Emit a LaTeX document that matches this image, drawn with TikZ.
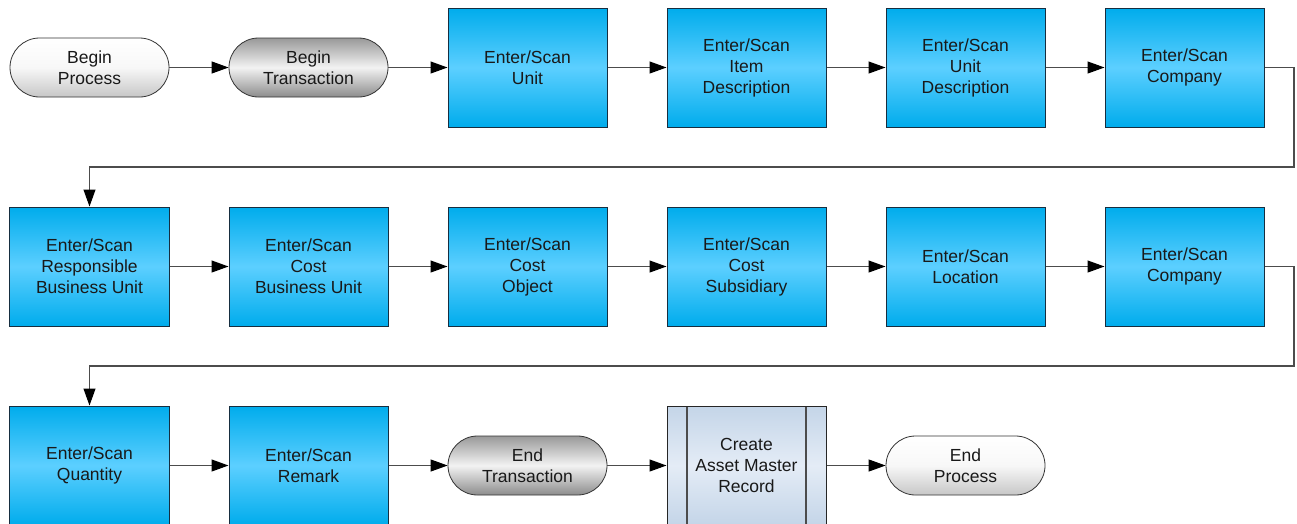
\documentclass[tikz,border=0pt]{standalone}
\usepackage{fontspec}
\setmainfont{Liberation Sans}
\usetikzlibrary{arrows.meta}

\definecolor{scandark}{RGB}{0,172,236}
\definecolor{scanlight}{RGB}{92,207,255}
\definecolor{scanedge}{RGB}{22,46,64}
\definecolor{recdark}{RGB}{196,213,232}
\definecolor{reclight}{RGB}{228,236,246}

\tikzset{
  flow/.style={
    every node/.style={font=\fontsize{17.5pt}{21pt}\selectfont,text=black!90,align=center,inner sep=2pt},
    scanbox/.style={
        draw=scanedge,
        line width=1pt,
        minimum width=159pt,
        minimum height=119pt,
        top color=scandark,
        bottom color=scandark,
        middle color=scanlight,
    },
    terminal/.style={
        draw=black!80,
        line width=0.8pt,
        minimum width=159pt,
        minimum height=59pt,
        rounded corners=29.5pt,
    },
    light terminal/.style={terminal,top color=white,bottom color=black!22,middle color=black!3},
    dark terminal/.style={terminal,top color=black!40,bottom color=black!45,middle color=black!5},
    record/.style={
        draw=black!85,
        line width=1pt,
        minimum width=159pt,
        minimum height=119pt,
        top color=recdark,
        bottom color=recdark,
        middle color=reclight,
        path picture={
            \draw[black!70,line width=1.2pt]
              ([xshift=20pt]path picture bounding box.north west) -- ([xshift=20pt]path picture bounding box.south west)
              ([xshift=-20pt]path picture bounding box.north east) -- ([xshift=-20pt]path picture bounding box.south east);
        },
    },
    link/.style={draw=black!70,line width=1.1pt,-{Triangle[length=17pt,width=12pt,color=black]}},
  }
}

\begin{document}
\begin{tikzpicture}[x=219pt, y=-199pt, flow]
            \useasboundingbox (-89.5pt,67.5pt) rectangle (1207.5pt,-455.5pt);

            \node[light terminal] (A1) at (0,0) {Begin\\Process};
            \node[dark terminal]  (A2) at (1,0) {Begin\\Transaction};
            \node[scanbox] (A3) at (2,0) {Enter/Scan\\Unit};
            \node[scanbox] (A4) at (3,0) {Enter/Scan\\Item\\Description};
            \node[scanbox] (A5) at (4,0) {Enter/Scan\\Unit\\Description};
            \node[scanbox] (A6) at (5,0) {Enter/Scan\\Company};

            \node[scanbox] (B1) at (0,1) {Enter/Scan\\Responsible\\Business Unit};
            \node[scanbox] (B2) at (1,1) {Enter/Scan\\Cost\\Business Unit};
            \node[scanbox] (B3) at (2,1) {Enter/Scan\\Cost\\Object};
            \node[scanbox] (B4) at (3,1) {Enter/Scan\\Cost\\Subsidiary};
            \node[scanbox] (B5) at (4,1) {Enter/Scan\\Location};
            \node[scanbox] (B6) at (5,1) {Enter/Scan\\Company};

            \node[scanbox] (C1) at (0,2) {Enter/Scan\\Quantity};
            \node[scanbox] (C2) at (1,2) {Enter/Scan\\Remark};
            \node[dark terminal]  (C3) at (2,2) {End\\Transaction};
            \node[record]         (C4) at (3,2) {Create\\Asset Master\\Record};
            \node[light terminal] (C5) at (4,2) {End\\Process};

            % turning points of the two wrap-around lines
            \coordinate (W1) at (5.5,0.5);
            \coordinate (W2) at (5.5,1.5);

            \draw[link] (A1) edge (A2) (A2) edge (A3) (A3) edge (A4) (A4) edge (A5) (A5) edge (A6);
            \draw[link] (B1) edge (B2) (B2) edge (B3) (B3) edge (B4) (B4) edge (B5) (B5) edge (B6);
            \draw[link] (C1) edge (C2) (C2) edge (C3) (C3) edge (C4) (C4) edge (C5);
            \draw[link] (A6.east) -| (W1) -| (B1.north);
            \draw[link] (B6.east) -| (W2) -| (C1.north);

        \end{tikzpicture}
\end{document}
